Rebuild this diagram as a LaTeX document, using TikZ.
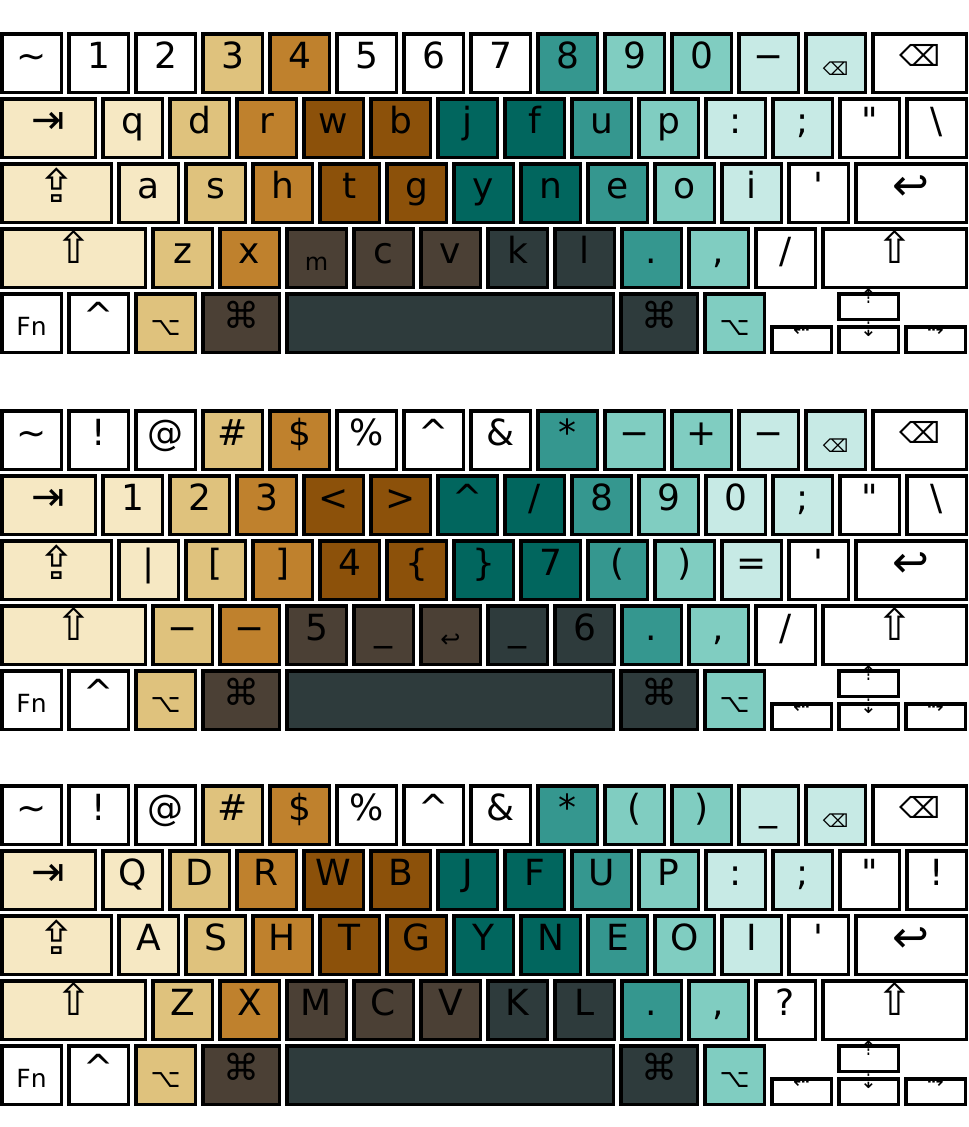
\documentclass[tikz,border=0pt]{standalone}
\usepackage{fontspec}
\setmainfont{DejaVu Sans}
\usetikzlibrary{positioning}
\definecolor{kw}{HTML}{FFFFFF}
\definecolor{k1}{HTML}{F6E8C3}
\definecolor{k2}{HTML}{DFC27D}
\definecolor{k3}{HTML}{BF812D}
\definecolor{k4}{HTML}{8C510A}
\definecolor{k5}{HTML}{01665E}
\definecolor{k6}{HTML}{35978F}
\definecolor{k7}{HTML}{80CDC1}
\definecolor{k8}{HTML}{C7EAE5}
\definecolor{kb}{HTML}{4B4035}
\definecolor{ks}{HTML}{2E3B3C}
\newcommand\lowlab[2][24]{\raisebox{-7pt}{\fontsize{#1}{#1}\selectfont #2}}
\newcommand\biglab[3][0pt]{\raisebox{#1}{\fontsize{#2}{#2}\selectfont #3}}
\tikzset{
    key/.style={rectangle, draw, line width=3.5pt, minimum width=59.5pt, minimum height=58.5pt, inner sep=0pt, text height=34.25pt, text depth=24.25pt, font=\fontsize{36}{36}\selectfont},
    keyw/.style={minimum width=#1},
    arrowkey/.style={key, fill=kw, minimum height=25.5pt, text height=10pt, text depth=15.5pt, font=\fontsize{20}{20}\selectfont}
}

\begin{document}
\begin{tikzpicture}[x=1pt, y=-1pt, node distance=3pt and 4pt]
    \useasboundingbox (0,0) rectangle (969,1127);

    % lower case layer
    \node[key, fill=kw, anchor=north west] (lo-1-0) at (0,32) {\textasciitilde};
    \foreach \lab/\col [count=\i, remember=\i as \j (initially 0)] in {1/kw,2/kw,3/k2,4/k3,5/kw,6/kw,7/kw,8/k6,9/k7,0/k7,−/k8,\lowlab[18]{⌫}/k8}
        \node[key, fill=\col, right=of lo-1-\j] (lo-1-\i) {\lab};
    \node[key, fill=kw, keyw=93.5pt, right=of lo-1-12] (lo-1-13) {\biglab[2pt]{29}{⌫}};

    \node[key, fill=k1, keyw=93.5pt, below=of lo-1-0.south west, anchor=north west] (lo-2-0) {\biglab{40}{⇥}};
    \foreach \lab/\col [count=\i, remember=\i as \j (initially 0)] in {q/k1,d/k2,r/k3,w/k4,b/k4,j/k5,f/k5,u/k6,p/k7,:/k8,;/k8,\textquotedbl/kw,\textbackslash/kw}
        \node[key, fill=\col, right=of lo-2-\j] (lo-2-\i) {\lab};

    \node[key, fill=k1, keyw=109.5pt, below=of lo-2-0.south west, anchor=north west] (lo-3-0) {\biglab[-4pt]{46}{⇪}};
    \foreach \lab/\col [count=\i, remember=\i as \j (initially 0)] in {a/k1,s/k2,h/k3,t/k4,g/k4,y/k5,n/k5,e/k6,o/k7,i/k8,\textquotesingle/kw}
        \node[key, fill=\col, right=of lo-3-\j] (lo-3-\i) {\lab};
    \node[key, fill=kw, keyw=110.5pt, right=of lo-3-11] (lo-3-12) {\biglab[-2pt]{44}{↩}};

    \node[key, fill=k1, keyw=143.5pt, below=of lo-3-0.south west, anchor=north west] (lo-4-0) {\biglab{44}{⇧}};
    \foreach \lab/\col [count=\i, remember=\i as \j (initially 0)] in {z/k2,x/k3,\lowlab{m}/kb,c/kb,v/kb,k/ks,l/ks,./k6,{,}/k7,{/}/kw}
        \node[key, fill=\col, right=of lo-4-\j] (lo-4-\i) {\lab};
    \node[key, fill=kw, keyw=143.5pt, right=of lo-4-10] (lo-4-11) {\biglab{44}{⇧}};

    % symbol layer
    \node[key, fill=kw, anchor=north west] (sym-1-0) at (0,409) {\textasciitilde};
    \foreach \lab/\col [count=\i, remember=\i as \j (initially 0)] in {!/kw,@/kw,\#/k2,\$/k3,\%/kw,\textasciicircum/kw,\&/kw,*/k6,−/k7,+/k7,−/k8,\lowlab[18]{⌫}/k8}
        \node[key, fill=\col, right=of sym-1-\j] (sym-1-\i) {\lab};
    \node[key, fill=kw, keyw=93.5pt, right=of sym-1-12] (sym-1-13) {\biglab[2pt]{29}{⌫}};

    \node[key, fill=k1, keyw=93.5pt, below=of sym-1-0.south west, anchor=north west] (sym-2-0) {\biglab{40}{⇥}};
    \foreach \lab/\col [count=\i, remember=\i as \j (initially 0)] in {1/k1,2/k2,3/k3,</k4,>/k4,\textasciicircum/k5,{/}/k5,8/k6,9/k7,0/k8,;/k8,\textquotedbl/kw,\textbackslash/kw}
        \node[key, fill=\col, right=of sym-2-\j] (sym-2-\i) {\lab};

    \node[key, fill=k1, keyw=109.5pt, below=of sym-2-0.south west, anchor=north west] (sym-3-0) {\biglab[-4pt]{46}{⇪}};
    \foreach \lab/\col [count=\i, remember=\i as \j (initially 0)] in {|/k1,{[}/k2,{]}/k3,4/k4,\{/k4,\}/k5,7/k5,{(}/k6,{)}/k7,=/k8,\textquotesingle/kw}
        \node[key, fill=\col, right=of sym-3-\j] (sym-3-\i) {\lab};
    \node[key, fill=kw, keyw=110.5pt, right=of sym-3-11] (sym-3-12) {\biglab[-2pt]{44}{↩}};

    \node[key, fill=k1, keyw=143.5pt, below=of sym-3-0.south west, anchor=north west] (sym-4-0) {\biglab{44}{⇧}};
    \foreach \lab/\col [count=\i, remember=\i as \j (initially 0)] in {−/k2,−/k3,5/kb,\_/kb,\lowlab[24]{↩}/kb,\_/ks,6/ks,./k6,{,}/k7,{/}/kw}
        \node[key, fill=\col, right=of sym-4-\j] (sym-4-\i) {\lab};
    \node[key, fill=kw, keyw=143.5pt, right=of sym-4-10] (sym-4-11) {\biglab{44}{⇧}};

    % upper case layer
    \node[key, fill=kw, anchor=north west] (up-1-0) at (0,784) {\textasciitilde};
    \foreach \lab/\col [count=\i, remember=\i as \j (initially 0)] in {!/kw,@/kw,\#/k2,\$/k3,\%/kw,\textasciicircum/kw,\&/kw,*/k6,{(}/k7,{)}/k7,\_/k8,\lowlab[18]{⌫}/k8}
        \node[key, fill=\col, right=of up-1-\j] (up-1-\i) {\lab};
    \node[key, fill=kw, keyw=93.5pt, right=of up-1-12] (up-1-13) {\biglab[2pt]{29}{⌫}};

    \node[key, fill=k1, keyw=93.5pt, below=of up-1-0.south west, anchor=north west] (up-2-0) {\biglab{40}{⇥}};
    \foreach \lab/\col [count=\i, remember=\i as \j (initially 0)] in {Q/k1,D/k2,R/k3,W/k4,B/k4,J/k5,F/k5,U/k6,P/k7,:/k8,;/k8,\textquotedbl/kw,!/kw}
        \node[key, fill=\col, right=of up-2-\j] (up-2-\i) {\lab};

    \node[key, fill=k1, keyw=109.5pt, below=of up-2-0.south west, anchor=north west] (up-3-0) {\biglab[-4pt]{46}{⇪}};
    \foreach \lab/\col [count=\i, remember=\i as \j (initially 0)] in {A/k1,S/k2,H/k3,T/k4,G/k4,Y/k5,N/k5,E/k6,O/k7,I/k8,\textquotesingle/kw}
        \node[key, fill=\col, right=of up-3-\j] (up-3-\i) {\lab};
    \node[key, fill=kw, keyw=110.5pt, right=of up-3-11] (up-3-12) {\biglab[-2pt]{44}{↩}};

    \node[key, fill=k1, keyw=143.5pt, below=of up-3-0.south west, anchor=north west] (up-4-0) {\biglab{44}{⇧}};
    \foreach \lab/\col [count=\i, remember=\i as \j (initially 0)] in {Z/k2,X/k3,M/kb,C/kb,V/kb,K/ks,L/ks,./k6,{,}/k7,?/kw}
        \node[key, fill=\col, right=of up-4-\j] (up-4-\i) {\lab};
    \node[key, fill=kw, keyw=143.5pt, right=of up-4-10] (up-4-11) {\biglab{44}{⇧}};

    % bottom row, same on every layer
    \foreach \kb in {lo,sym,up} {
        \node[key, fill=kw, below=of \kb-4-0.south west, anchor=north west] (\kb-5-0) {\lowlab[25]{Fn}};
        \node[key, fill=kw, right=of \kb-5-0] (\kb-5-1) {\textasciicircum};
        \node[key, fill=k2, right=of \kb-5-1] (\kb-5-2) {\lowlab[26]{⌥}};
        \node[key, fill=kb, keyw=76.5pt, right=of \kb-5-2] (\kb-5-3) {⌘};
        \node[key, fill=ks, keyw=326.5pt, right=of \kb-5-3] (\kb-5-4) {};
        \node[key, fill=ks, keyw=76.5pt, right=of \kb-5-4] (\kb-5-5) {⌘};
        \node[key, fill=k7, right=of \kb-5-5] (\kb-5-6) {\lowlab[26]{⌥}};
        \node[arrowkey, right=of \kb-5-6.south east, anchor=south west] (\kb-left) {⇠};
        \node[arrowkey, right=of \kb-left] (\kb-down) {⇣};
        \node[arrowkey, right=of \kb-down] (\kb-right) {⇢};
        \node[arrowkey, above=4pt of \kb-down] (\kb-up) {⇡};
    }
\end{tikzpicture}
\end{document}
